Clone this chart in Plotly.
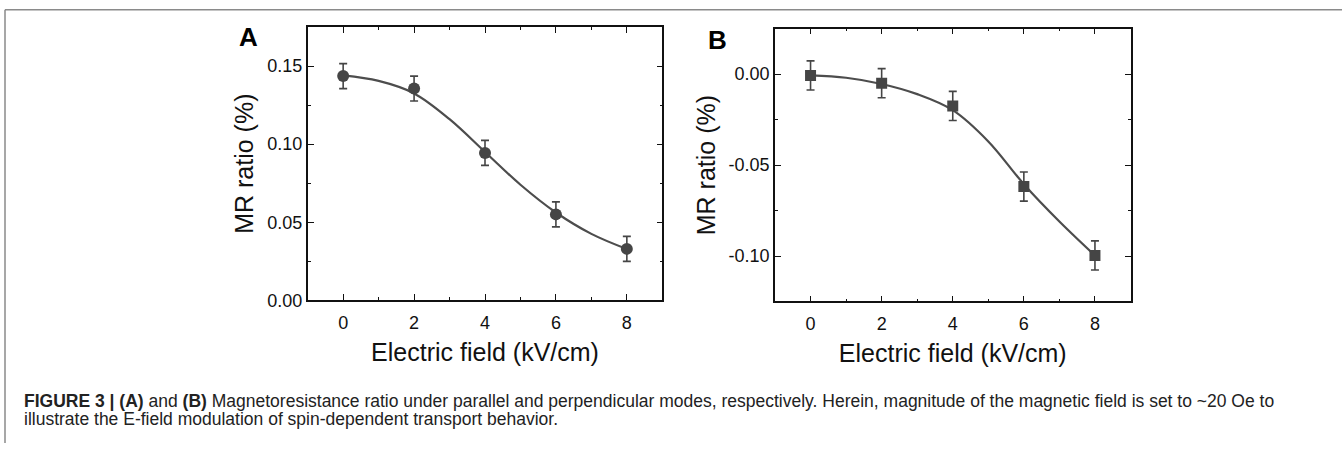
import plotly.graph_objects as go

W, H = 1342, 453

# ---- data ----
field = [0, 2, 4, 6, 8]
mr_a = [0.1436, 0.1356, 0.0944, 0.0550, 0.0329]
err_a = [0.008, 0.008, 0.008, 0.008, 0.008]
mr_b = [-0.0007, -0.0050, -0.0175, -0.0618, -0.0997]
err_b = [0.008, 0.008, 0.008, 0.008, 0.008]

fit_x = [0, 1, 2, 3, 4, 5, 6, 7, 8]
fit_a = [0.1440, 0.1405, 0.1325, 0.1160, 0.0950, 0.0740, 0.0562, 0.0425, 0.0328]
fit_b = [-0.0007, -0.0020, -0.0054, -0.0110, -0.0198, -0.0370, -0.0605, -0.0810, -0.0997]

xticks = [0, 2, 4, 6, 8]
xticktext = ["0", "2", "4", "6", "8"]
ya_ticks = [0.00, 0.05, 0.10, 0.15]
ya_text = ["0.00", "0.05", "0.10", "0.15"]
yb_ticks = [-0.10, -0.05, 0.00]
yb_text = ["-0.10", "-0.05", "0.00"]

caption1 = ("<b>FIGURE 3 | (A)</b> and <b>(B)</b> Magnetoresistance ratio under parallel and "
            "perpendicular modes, respectively. Herein, magnitude of the magnetic field is set to ~20 Oe to")
caption2 = "illustrate the E-field modulation of spin-dependent transport behavior."

MARK = "#454545"
LINE = "#4d4d4d"

def px(x):
    return x / W

def py(y):
    return 1 - y / H

fig = go.Figure()

fig.add_trace(go.Scatter(x=fit_x, y=fit_a, mode="lines", line=dict(color=LINE, width=2.2, shape="spline"),
                         xaxis="x", yaxis="y", showlegend=False, hoverinfo="skip"))
fig.add_trace(go.Scatter(x=field, y=mr_a, mode="markers",
                         marker=dict(symbol="circle", size=12, color=MARK),
                         error_y=dict(type="data", array=err_a, color=MARK, thickness=1.6, width=4),
                         xaxis="x", yaxis="y", showlegend=False))
fig.add_trace(go.Scatter(x=fit_x, y=fit_b, mode="lines", line=dict(color=LINE, width=2.2, shape="spline"),
                         xaxis="x2", yaxis="y2", showlegend=False, hoverinfo="skip"))
fig.add_trace(go.Scatter(x=field, y=mr_b, mode="markers",
                         marker=dict(symbol="square", size=11, color=MARK),
                         error_y=dict(type="data", array=err_b, color=MARK, thickness=1.6, width=4),
                         xaxis="x2", yaxis="y2", showlegend=False))

axis_common = dict(showline=True, linecolor="#111", linewidth=1.6, mirror="allticks",
                   ticks="inside", ticklen=6, tickwidth=1.4, tickcolor="#111",
                   showgrid=False, zeroline=False,
                   tickfont=dict(family="Liberation Sans, Arial", size=18, color="#111"),
                   title_font=dict(family="Liberation Sans, Arial", size=25, color="#111"))

xminor = dict(dtick=1, ticks="inside", ticklen=3, tickwidth=1.2, tickcolor="#111", showgrid=False)
yminor = dict(dtick=0.025, ticks="inside", ticklen=3, tickwidth=1.2, tickcolor="#111", showgrid=False)

fig.update_layout(
    width=W, height=H, margin=dict(l=0, r=0, t=0, b=0),
    paper_bgcolor="white", plot_bgcolor="white",
    xaxis=dict(domain=[px(307.7), px(662.3)], range=[-1, 9], anchor="y",
               tickvals=xticks, ticktext=xticktext, minor=dict(xminor, tick0=-1),
               ticklabelstandoff=5,
               title=dict(text="Electric field (kV/cm)", standoff=12), **axis_common),
    yaxis=dict(domain=[py(307), py(27.7)], range=[0, 0.175], anchor="x",
               tickvals=ya_ticks, ticktext=ya_text, minor=dict(yminor, tick0=0),
               title=dict(text="MR ratio (%)", standoff=6), **axis_common),
    xaxis2=dict(domain=[px(775), px(1130.5)], range=[-1, 9], anchor="y2",
                tickvals=xticks, ticktext=xticktext, minor=dict(xminor, tick0=-1),
                ticklabelstandoff=5,
                title=dict(text="Electric field (kV/cm)", standoff=12), **axis_common),
    yaxis2=dict(domain=[py(308.3), py(29.3)], range=[-0.125, 0.025], anchor="x2",
                tickvals=yb_ticks, ticktext=yb_text, minor=dict(yminor, tick0=0),
                title=dict(text="MR ratio (%)", standoff=6), **axis_common),
)

annos = [
    dict(text="<b>A</b>", x=px(249), y=py(38), font=dict(family="Liberation Sans, Arial", size=26, color="#000")),
    dict(text="<b>B</b>", x=px(717), y=py(41), font=dict(family="Liberation Sans, Arial", size=26, color="#000")),
]
for a in annos:
    fig.add_annotation(xref="paper", yref="paper", showarrow=False, xanchor="center", yanchor="middle", **a)

for txt, yy in [(caption1, 410), (caption2, 428)]:
    fig.add_annotation(text=txt, xref="paper", yref="paper", x=px(22), y=py(yy), showarrow=False,
                       xanchor="left", yanchor="middle", align="left",
                       font=dict(family="Liberation Sans, Arial", size=17.5, color="#222"))

# frame lines
fig.add_shape(type="line", xref="paper", yref="paper", x0=px(5), x1=1, y0=py(10), y1=py(10),
              line=dict(color="#8a8a8a", width=1.5))
fig.add_shape(type="line", xref="paper", yref="paper", x0=px(5), x1=px(5), y0=py(10), y1=0,
              line=dict(color="#8a8a8a", width=1.5))

fig.write_html("out.html")
